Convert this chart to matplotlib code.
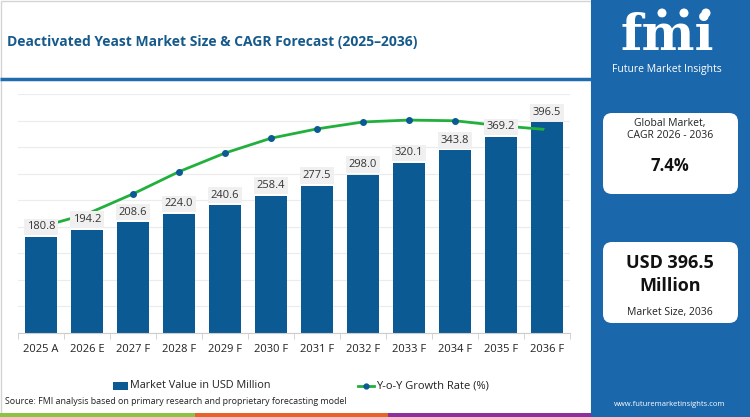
import matplotlib.pyplot as plt
import numpy as np
from matplotlib.patches import Rectangle, FancyBboxPatch, Circle

plt.rcParams['font.family'] = ['Open Sans', 'DejaVu Sans']

# Chart data
years = ["2025 A", "2026 E", "2027 F", "2028 F", "2029 F", "2030 F",
         "2031 F", "2032 F", "2033 F", "2034 F", "2035 F", "2036 F"]
market_value = [180.8, 194.2, 208.6, 224.0, 240.6, 258.4,
                277.5, 298.0, 320.1, 343.8, 369.2, 396.5]
# Y-o-Y growth curve (secondary axis, estimated from line position)
growth_rate = [4.44, 4.98, 5.82, 6.75, 7.53, 8.15,
               8.54, 8.83, 8.91, 8.88, 8.67, 8.51]

title = "Deactivated Yeast Market Size & CAGR Forecast (2025\u20132036)"
source = "Source: FMI analysis based on primary research and proprietary forecasting model"
cagr_text = "7.4%"
size_text = ["USD 396.5", "Million"]

BAR = "#0b5a93"
GREEN = "#22b03c"
PANEL = "#1b67ac"
TITLE_C = "#165a8c"
W, H = 750, 417

fig = plt.figure(figsize=(7.5, 4.17), dpi=100)

# background canvas in pixel coordinates
bg = fig.add_axes([0, 0, 1, 1], zorder=0)
bg.set_xlim(0, W)
bg.set_ylim(H, 0)
bg.axis("off")

bg.add_patch(Rectangle((0.5, 0.5), 590, 415, facecolor="white",
                       edgecolor="#d4d4d4", lw=1))
bg.plot([0, 591], [79, 79], color="#1f6db0", lw=2.5, solid_capstyle="butt")
bg.text(7, 42, title, fontsize=10, fontweight="bold", color=TITLE_C,
        va="center", ha="left")

# bottom colour strip
for x0, x1, c in [(0, 195, "#8cc342"), (195, 388, "#e8632b"), (388, 592, "#8e2f9d")]:
    bg.add_patch(Rectangle((x0, 413), x1 - x0, 4, facecolor=c, edgecolor="none"))

# right panel
bg.add_patch(Rectangle((591, 0), W - 591, H, facecolor=PANEL, edgecolor="none"))

# logo
bg.text(667, 36, "fmi", fontsize=36, fontweight="bold", family="DejaVu Serif",
        color="white", ha="center", va="center")
for yy in np.arange(18, 58, 3.4):
    bg.plot([608, 726], [yy, yy], color=PANEL, lw=1.0)
for cx in [662, 684, 706]:
    bg.add_patch(Circle((cx, 13), 4.5, facecolor="white", edgecolor="none"))
bg.text(667, 69, "Future Market Insights", fontsize=7.5, color="white",
        ha="center", va="center")

for y0, y1 in [(113, 194), (242, 323)]:
    bg.add_patch(FancyBboxPatch((603, y0), 135, y1 - y0,
                                boxstyle="round,pad=0,rounding_size=9",
                                facecolor="white", edgecolor="none"))
bg.text(670, 123, "Global Market,", fontsize=7.5, color="#222222", ha="center", va="center")
bg.text(670, 136, "CAGR 2026 - 2036", fontsize=7.5, color="#222222", ha="center", va="center")
bg.text(670, 166, cagr_text, fontsize=12, fontweight="bold", color="#111111",
        ha="center", va="center")
bg.text(670, 263, size_text[0], fontsize=13, fontweight="bold", color="#111111",
        ha="center", va="center")
bg.text(670, 286, size_text[1], fontsize=13, fontweight="bold", color="#111111",
        ha="center", va="center")
bg.text(670, 313, "Market Size, 2036", fontsize=7.5, color="#222222", ha="center", va="center")
bg.text(670, 405, "www.futuremarketinsights.com", fontsize=5.5, color="white",
        ha="center", va="center")

# legend (drawn by hand)
bg.add_patch(Rectangle((113, 382), 15, 8, facecolor=BAR, edgecolor="none"))
bg.text(130, 386, "Market Value in USD Million", fontsize=7.8, color="#222222",
        va="center", ha="left")
bg.plot([358, 374], [386, 386], color=GREEN, lw=2)
bg.plot([366], [386], "o", color=BAR, ms=3.5)
bg.text(376, 386, "Y-o-Y Growth Rate (%)", fontsize=8, color="#222222",
        va="center", ha="left")
bg.text(5, 402, source, fontsize=6.4, color="#222222", va="center", ha="left")

# main chart
ax = fig.add_axes([18 / W, 1 - 333 / H, (570 - 18) / W, (333 - 94) / H], zorder=1)
ax.patch.set_alpha(0)
x = np.arange(len(years))
ax.bar(x, market_value, width=0.71, color=BAR, zorder=2)
ax.set_xlim(-0.5, len(years) - 0.5)
ax.set_ylim(0, 450)
ax.set_yticks(np.arange(0, 451, 50))
ax.yaxis.grid(True, color="#ececec", lw=0.8)
ax.set_axisbelow(True)
ax.set_xticks(x)
ax.set_xticklabels(years, fontsize=8, color="#222222")
ax.set_xticks(np.arange(-0.5, len(years)), minor=True)
ax.tick_params(axis="x", which="major", length=0, pad=8)
ax.tick_params(axis="x", which="minor", length=4, color="#cccccc")
for s in ["left", "right", "top"]:
    ax.spines[s].set_visible(False)
ax.spines["bottom"].set_color("#cccccc")

ax2 = ax.twinx()
ax2.set_ylim(0, 10)
ax2.plot(x, growth_rate, color=GREEN, lw=2, marker="o", ms=4,
         markerfacecolor=BAR, markeredgecolor=BAR, zorder=3)
ax2.axis("off")
ax.tick_params(axis="y", which="both", left=False, right=False,
               labelleft=False, labelright=False)

for xi, v in zip(x, market_value):
    ax2.text(xi, v + 19, f"{v:.1f}", transform=ax.transData, fontsize=8,
             color="#333333", ha="center", va="center", zorder=5,
             bbox=dict(facecolor="#f0f0f0", edgecolor="none", pad=2))

fig.savefig("out.png", dpi=100)
